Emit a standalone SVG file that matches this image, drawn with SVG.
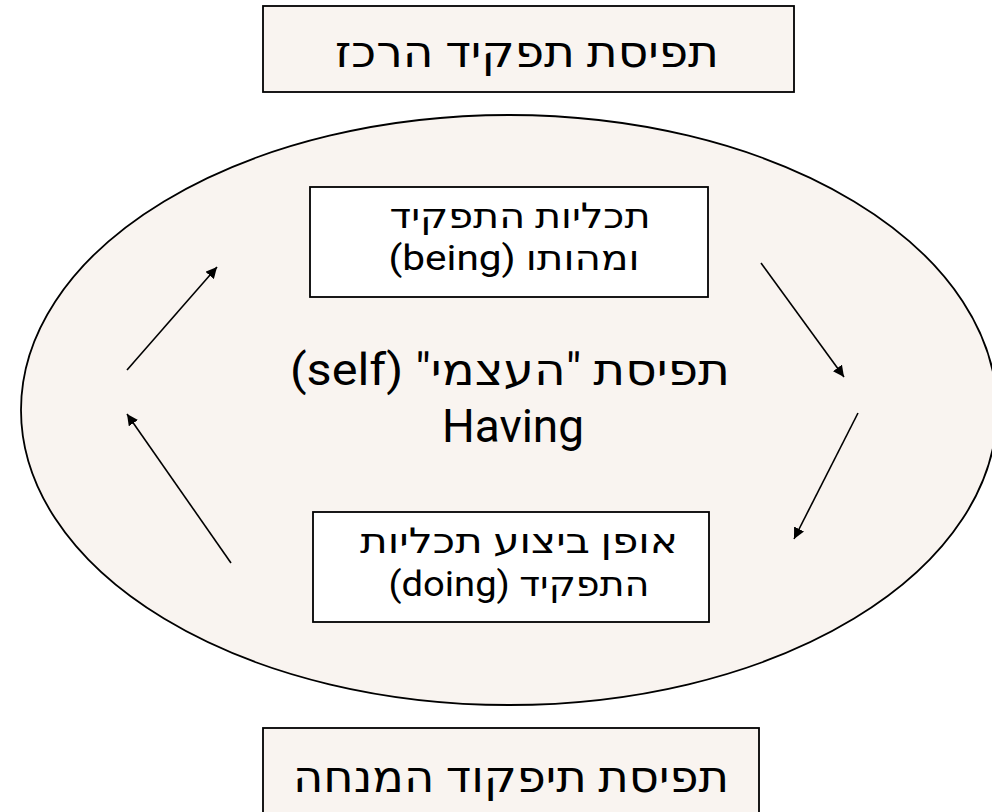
<svg xmlns="http://www.w3.org/2000/svg" width="992" height="812" viewBox="0 0 992 812">
<defs>
<style>
.beige{fill:#F9F4F0;stroke:#000;stroke-width:1.8}
.white{fill:#FFFFFF;stroke:#000;stroke-width:1.8}
.t{font-family:Roboto,"DejaVu Sans",sans-serif;fill:#000;text-anchor:middle;direction:rtl;unicode-bidi:embed}
.conn line{stroke:#000;stroke-width:1.6;marker-end:url(#ah)}
</style>
<marker id="ah" viewBox="0 0 10 10" refX="10" refY="5" markerWidth="7" markerHeight="7" orient="auto" markerUnits="strokeWidth">
<path d="M0,0 L10,5 L0,10 z" fill="#000"/>
</marker>
</defs>
<rect width="992" height="812" fill="#FFFFFF"/>
<g id="top-title">
<rect class="beige" x="263" y="6" width="531" height="86"/>
<text class="t" x="527" y="67" font-size="44" textLength="384" lengthAdjust="spacingAndGlyphs" direction="rtl">תפיסת תפקיד הרכז</text>
</g>
<g id="self-ellipse">
<ellipse class="beige" cx="509" cy="410" rx="488" ry="295"/>
<text class="t" x="510" y="385" font-size="44" textLength="440" lengthAdjust="spacingAndGlyphs" direction="rtl">תפיסת "העצמי" (self)</text>
<text class="t" x="513" y="442" font-size="46" direction="ltr">Having</text>
</g>
<g id="being">
<rect class="white" x="310" y="187" width="398" height="110"/>
<text class="t" x="520" y="228" font-size="35" textLength="261" lengthAdjust="spacingAndGlyphs" direction="rtl">תכליות התפקיד</text>
<text class="t" x="514" y="270" font-size="35" textLength="251" lengthAdjust="spacingAndGlyphs" direction="rtl">ומהותו (being)</text>
</g>
<g id="doing">
<rect class="white" x="313" y="512" width="396" height="110"/>
<text class="t" x="519" y="553" font-size="35" textLength="318" lengthAdjust="spacingAndGlyphs" direction="rtl">אופן ביצוע תכליות</text>
<text class="t" x="519" y="596" font-size="35" textLength="261" lengthAdjust="spacingAndGlyphs" direction="rtl">התפקיד (doing)</text>
</g>
<g id="bottom-title">
<rect class="beige" x="263" y="728" width="496" height="90"/>
<text class="t" x="511" y="792" font-size="44" textLength="436" lengthAdjust="spacingAndGlyphs" direction="rtl">תפיסת תיפקוד המנחה</text>
</g>
<g id="connectors" class="conn">
<line x1="127" y1="370" x2="217" y2="267"/>
<line x1="231" y1="563" x2="127" y2="414"/>
<line x1="761" y1="263" x2="844" y2="377"/>
<line x1="858" y1="413" x2="794" y2="539"/>
</g>
</svg>
